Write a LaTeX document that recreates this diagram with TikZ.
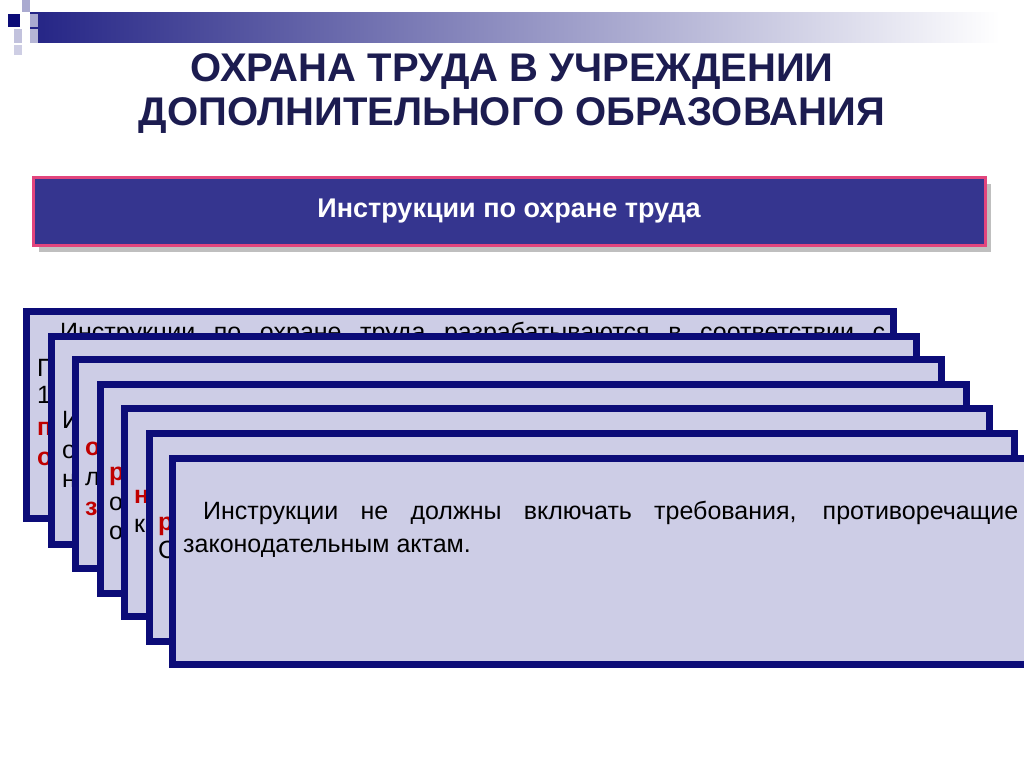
\documentclass[tikz,border=0pt]{standalone}
\usepackage{fontspec}
\setmainfont{Liberation Sans}
\definecolor{navy}{HTML}{0C0C78}
\definecolor{lav}{HTML}{CDCDE6}
\definecolor{banner}{HTML}{35358F}
\definecolor{pinkb}{HTML}{E2457D}
\definecolor{titlec}{HTML}{1C1C50}
\definecolor{redt}{HTML}{C00000}
\tikzset{card/.style={draw=navy,line width=7pt,fill=lav},
 frag/.style={anchor=base west,inner sep=0pt,font=\fontsize{25}{28}\selectfont},
 redfrag/.style={frag,text=redt,font=\fontsize{25}{28}\selectfont\bfseries}}
\begin{document}
\begin{tikzpicture}[x=1pt,y=-1pt]
\useasboundingbox (0,0) rectangle (1024,767);
\clip (0,0) rectangle (1024,767);
% top bar
\shade[left color=navy!90,right color=white] (30,13) rectangle (1000,43);
\fill[navy] (8,14) rectangle (20,27);
\fill[navy!35] (22,0) rectangle (30,12);
\fill[navy!35] (30,14) rectangle (38,27);
\fill[navy!25] (14,29) rectangle (22,43);
\fill[navy!30] (30,29) rectangle (38,43);
\fill[navy!20] (14,45) rectangle (22,55);
% title
\node[text=titlec,font=\fontsize{40}{44}\selectfont\bfseries,align=center] (title) at (512,94) {ОХРАНА ТРУДА В УЧРЕЖДЕНИИ\\ДОПОЛНИТЕЛЬНОГО ОБРАЗОВАНИЯ};
% banner
\fill[gray!50] (39,184) rectangle (991,252);
\draw[draw=pinkb,line width=3pt,fill=banner] (33,178) rectangle (985,245);
\node[text=white,font=\fontsize{27}{30}\selectfont\bfseries] (ban) at (509,211) {Инструкции по охране труда};
% cards
\draw[card] (26,311) rectangle (893,518);
\node[frag] (t1) at (60,340) {\makebox[825pt][s]{Инструкции по охране труда разрабатываются в соответствии с}};
\node[frag] at (37,376) {П};
\node[frag] at (37,403) {1};
\node[redfrag] at (37,435) {п};
\node[redfrag] at (37,465) {о};
\draw[card] (51,336) rectangle (916,544);
\node[frag] at (62,428) {И};
\node[frag] at (62,458) {о};
\node[frag] at (62,487) {н};
\draw[card] (75,359) rectangle (941,568);
\node[redfrag] at (85,455) {о};
\node[frag] at (85,485) {л};
\node[redfrag] at (85,515) {з};
\draw[card] (100,384) rectangle (966,593);
\node[redfrag] at (109,480) {р};
\node[frag] at (109,510) {о};
\node[frag] at (109,539) {о};
\draw[card] (124,408) rectangle (989,616);
\node[redfrag] at (134,503) {н};
\node[frag] at (134,532) {к};
\draw[card] (149,433) rectangle (1014,641);
\node[redfrag] at (158,530) {р};
\node[frag] at (158,558) {С};
\draw[card] (172,458) rectangle (1040,664);
\node[frag] (t7) at (203,519) {\makebox[815pt][s]{Инструкции не должны включать требования, противоречащие}};
\node[frag] (t8) at (183,552) {законодательным актам.};
\end{tikzpicture}
\end{document}
